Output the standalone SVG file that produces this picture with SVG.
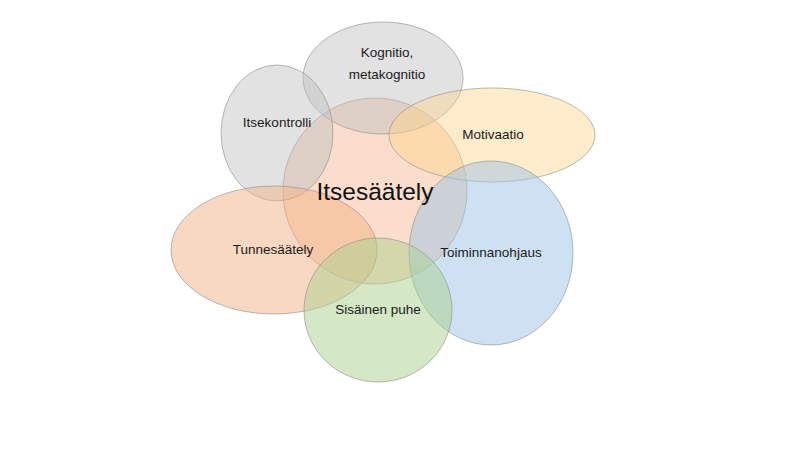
<svg xmlns="http://www.w3.org/2000/svg" width="800" height="450" viewBox="0 0 800 450">
<style>
.e{stroke:#8c8c8c;stroke-opacity:0.6;stroke-width:1}
.t{font-family:"Liberation Sans",Arial,sans-serif;font-size:13.5px;fill:#1a1a1a;text-anchor:middle}
.big{font-family:"Liberation Sans",Arial,sans-serif;font-size:24.5px;fill:#111;text-anchor:middle}
</style>
<rect width="800" height="450" fill="#ffffff"/>
<g id="itsesaately">
<ellipse class="e" cx="375" cy="191" rx="92" ry="93" fill="#F4B183" fill-opacity="0.42"/>
</g>
<g id="kognitio">
<ellipse class="e" cx="383" cy="78" rx="80" ry="56" fill="#BFBFBF" fill-opacity="0.45"/>
</g>
<g id="itsekontrolli">
<ellipse class="e" cx="277" cy="133" rx="56" ry="68" fill="#BFBFBF" fill-opacity="0.45"/>
</g>
<g id="motivaatio">
<ellipse class="e" cx="492" cy="135" rx="103" ry="47" fill="#FFD58A" fill-opacity="0.45"/>
</g>
<g id="toiminnanohjaus">
<ellipse class="e" cx="491" cy="253" rx="82" ry="92" fill="#9DC3E6" fill-opacity="0.5"/>
</g>
<g id="tunnesaately">
<ellipse class="e" cx="274" cy="250" rx="103" ry="64" fill="#F4B183" fill-opacity="0.5"/>
</g>
<g id="sisainen-puhe">
<ellipse class="e" cx="378" cy="310" rx="74" ry="72" fill="#A9D18E" fill-opacity="0.5"/>
</g>
<g id="labels">
<text class="t" x="387" y="57">Kognitio,</text>
<text class="t" x="387" y="79">metakognitio</text>
<text class="t" x="277" y="127">Itsekontrolli</text>
<text class="t" x="493" y="139">Motivaatio</text>
<text class="big" x="375" y="200">Itsesäätely</text>
<text class="t" x="273" y="254">Tunnesäätely</text>
<text class="t" x="491" y="257">Toiminnanohjaus</text>
<text class="t" x="378" y="314">Sisäinen puhe</text>
</g>
</svg>
